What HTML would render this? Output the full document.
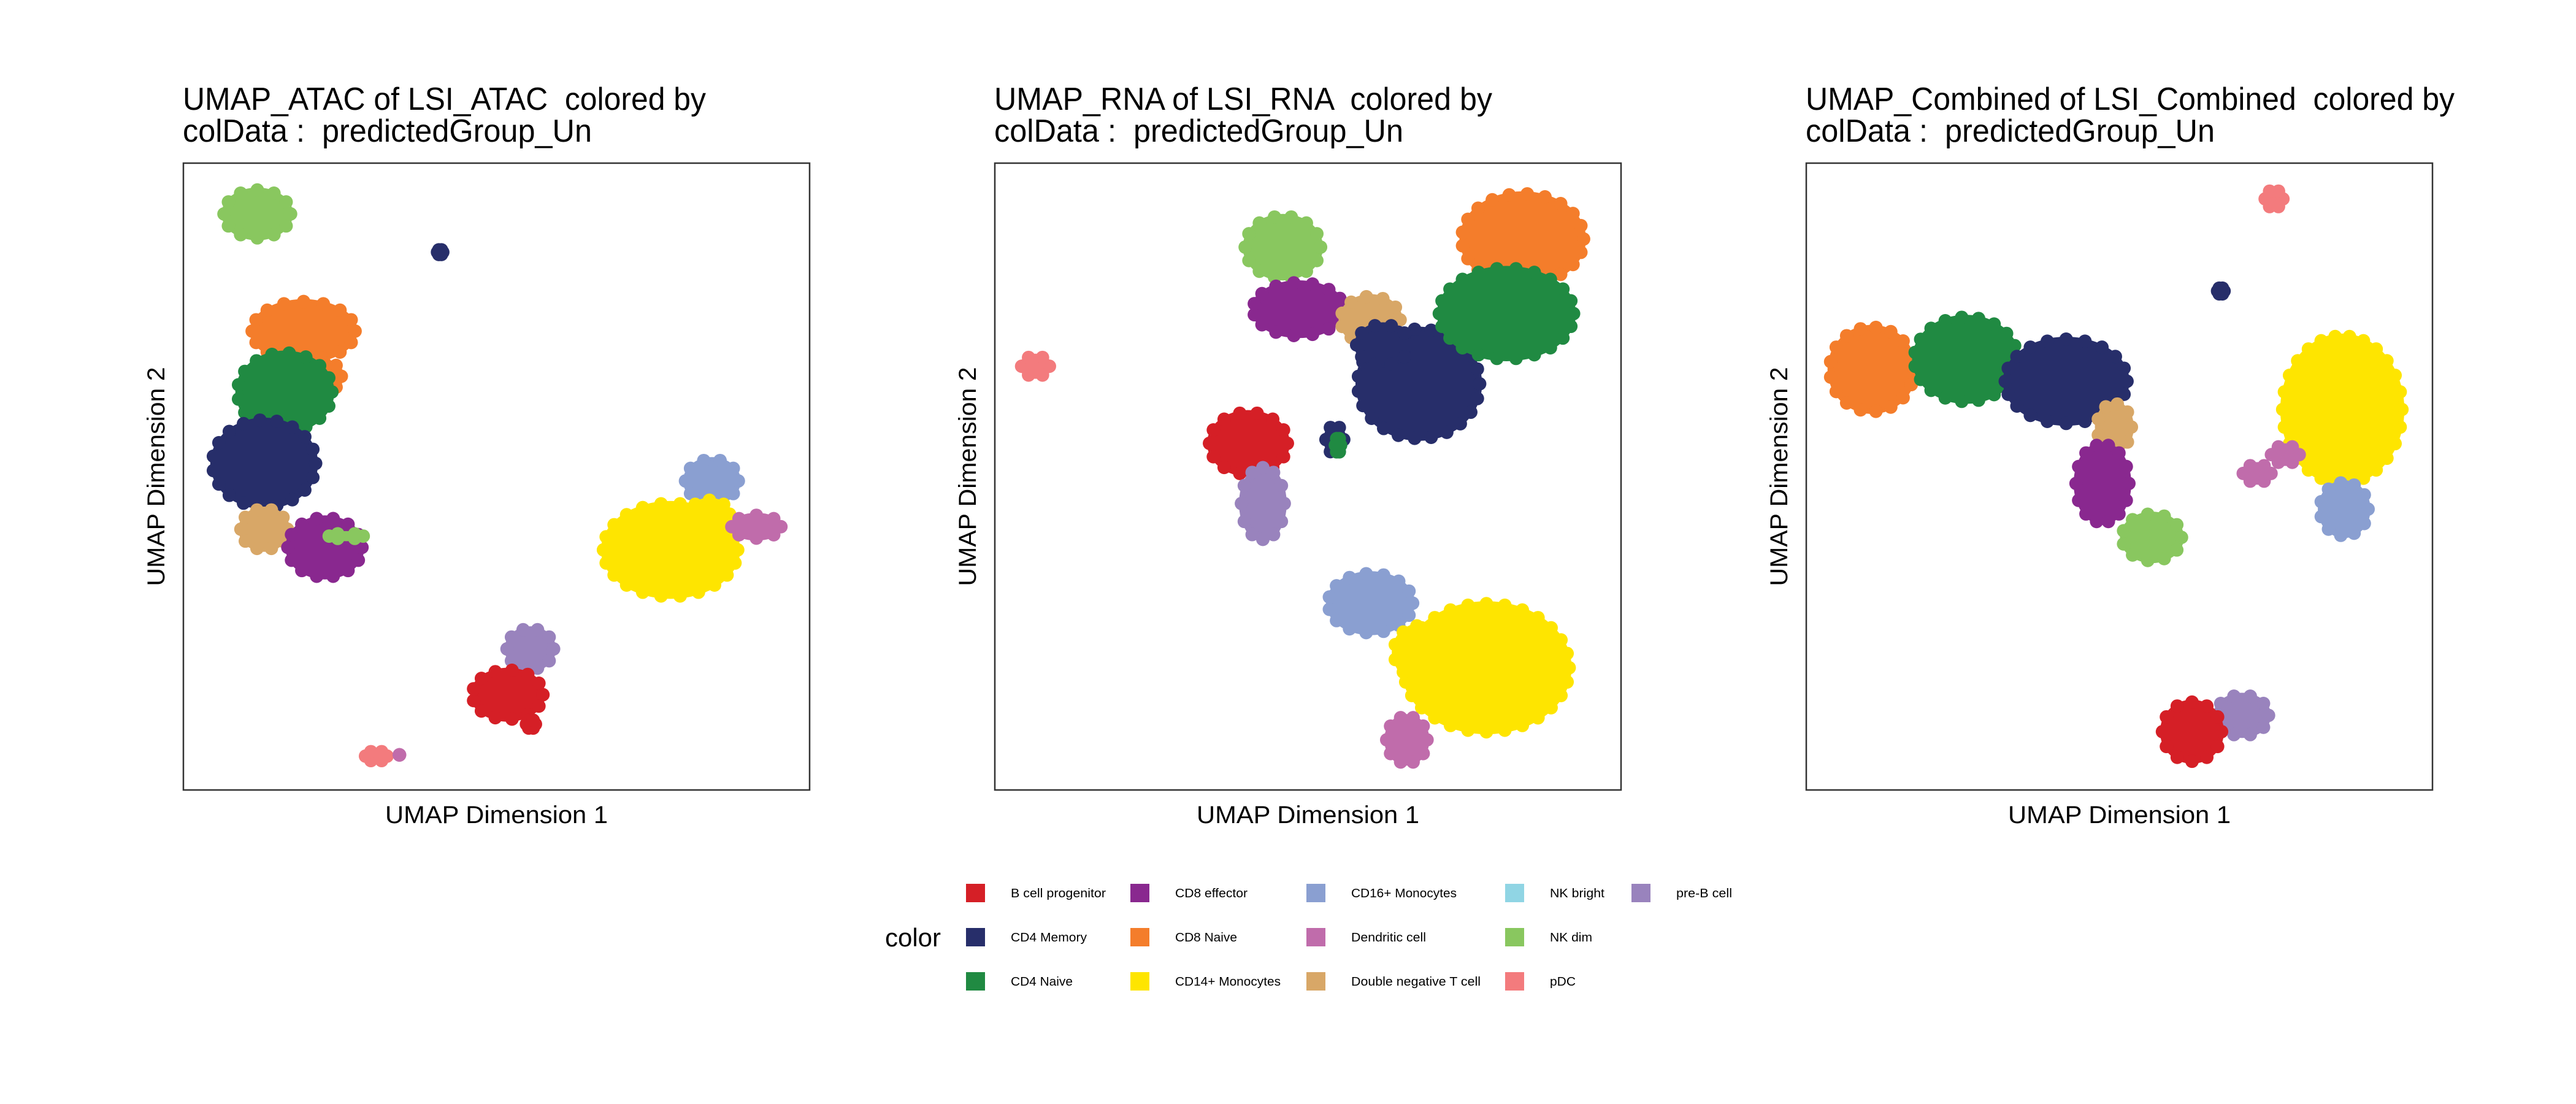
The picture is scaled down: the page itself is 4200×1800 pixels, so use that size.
<!DOCTYPE html>
<html><head><meta charset="utf-8"><style>
html,body{margin:0;padding:0;background:#fff;}
svg{display:block;font-family:"Liberation Sans",Arial,sans-serif;}
text{white-space:pre;}
</style></head><body>
<svg id="chart" width="4200" height="1800" viewBox="0 0 4200 1800" xmlns="http://www.w3.org/2000/svg" xml:space="preserve">
<rect x="0" y="0" width="4200" height="1800" fill="#fff"/>
</svg>
<script>
// Category names and colours
const groupNames = ["B cell progenitor","CD4 Memory","CD4 Naive","CD8 effector","CD8 Naive","CD14+ Monocytes","CD16+ Monocytes","Dendritic cell","Double negative T cell","NK bright","NK dim","pDC","pre-B cell"];
const groupColors = ["#D51F26","#272E6A","#208A42","#89288F","#F47D2B","#FEE500","#8A9FD1","#C06CAB","#D8A767","#90D5E4","#89C75F","#F37B7D","#9983BD"];

// Panel 1: UMAP_ATAC (cluster blobs in UMAP units 0-100)
const atacGroup = [10,1,4,4,2,1,8,3,10,6,5,5,7,12,0,0,11,7];
const atacX     = [11.8,41,19.2,23,16.2,12.9,12.9,22.6,26,84.4,77.8,84,91.5,55.4,51.8,55.5,30.8,34.5];
const atacY     = [91.9,85.8,73.2,66,63.5,52.1,41.6,38.7,40.5,49.3,38.3,44,42,22.5,15.2,10.5,5.4,5.6];
const atacRX    = [6.1,1.2,9,3,8.3,9,4.5,6.7,3.5,5,11.5,4,4.7,4.5,6.4,1.5,2.5,0.8];
const atacRY    = [4.6,1.2,5.5,3,7,7.7,4,5.5,1.2,4.2,8.2,3,2.6,4,4.7,1.5,1.6,0.8];

// Panel 2: UMAP_RNA
const rnaGroup = [11,10,3,8,4,1,1,2,0,12,1,2,6,5,5,7];
const rnaX     = [6.5,46,48.5,60,84.3,67.7,62,81.7,40.5,42.8,54.3,54.8,60,78.5,68,65.8];
const rnaY     = [67.6,86.6,76.7,75,87.9,64.8,71,76,55.3,45.7,55.9,55,29.8,19.5,22,8];
const rnaRX    = [3,6.8,8,5.5,10.5,10.5,5,11.5,7,4.2,2.2,1.2,7.5,14,5,4];
const rnaRY    = [2.4,5.7,5,4.5,8,9.5,4,8,5.7,6.5,3,2,5.5,11,5,4.5];

// Panel 3: UMAP_Combined
const combGroup = [11,1,4,2,1,8,3,10,5,6,7,7,12,0];
const combX     = [74.7,66.2,10.5,25.5,41.5,49.2,47.3,55.2,85.6,85.9,72,76.5,69.6,61.6];
const combY     = [94.3,79.6,67.1,68.7,65.2,57.9,48.9,40.3,60.7,44.8,50.5,53.5,11.9,9.3];
const combRX    = [2.2,1.3,7.5,9,10.5,3.5,5,5.5,10.3,4.6,3,3,5,5.5];
const combRY    = [2.2,1.3,7.5,7.5,7.5,4.5,7,4.5,12.5,5,2.2,2.2,4,5.5];

// Titles and axis labels
const titleLine1 = ["UMAP_ATAC of LSI_ATAC  colored by","UMAP_RNA of LSI_RNA  colored by","UMAP_Combined of LSI_Combined  colored by"];
const titleLine1W = [853,812,1058];
const titleLine2 = "colData :  predictedGroup_Un";

const NS = "http://www.w3.org/2000/svg";
const svg = document.getElementById("chart");
function mk(tag, attrs, parent){
  const e = document.createElementNS(NS, tag);
  for (const k in attrs) e.setAttribute(k, attrs[k]);
  (parent||svg).appendChild(e);
  return e;
}
const panelLeft = [299,1622,2945];
const PW = 1021, PH = 1022, PT = 266;
const panels = [
  {g:atacGroup,x:atacX,y:atacY,rx:atacRX,ry:atacRY,name:"atac"},
  {g:rnaGroup,x:rnaX,y:rnaY,rx:rnaRX,ry:rnaRY,name:"rna"},
  {g:combGroup,x:combX,y:combY,rx:combRX,ry:combRY,name:"combined"}
];

panels.forEach((p, pi) => {
  const L = panelLeft[pi];
  const sx = v => L + v/100*PW;
  const sy = v => PT + (100-v)/100*PH;
  const sw = v => v/100*PW;
  const sh = v => v/100*PH;

  const t1 = mk("text",{x:298+(L-299),y:179,"font-size":52,fill:"#000",textLength:titleLine1W[pi],lengthAdjust:"spacingAndGlyphs"});
  
  
  t1.textContent = titleLine1[pi];
  const t2 = mk("text",{x:298+(L-299),y:231,"font-size":52,fill:"#000",textLength:667,lengthAdjust:"spacingAndGlyphs"});
  
  
  t2.textContent = titleLine2;

  const grp = mk("g",{});
  
  
  for (let i=0;i<p.g.length;i++){
    const col = groupColors[p.g[i]];
    const cx = sx(p.x[i]), cy = sy(p.y[i]), rx = sw(p.rx[i]), ry = sh(p.ry[i]);
    const cl = mk("g",{fill:col},grp);
    
    
    mk("ellipse",{cx:cx,cy:cy,rx:Math.max(rx-4,6),ry:Math.max(ry-4,6)},cl);
    const n = Math.max(6, Math.round((rx+ry)/9));
    for (let k=0;k<n;k++){
      const a = k/n*Math.PI*2;
      mk("circle",{cx:cx+Math.cos(a)*(rx-8),cy:cy+Math.sin(a)*(ry-8),r:11},cl);
    }
  }

  const frame = mk("rect",{x:L,y:PT,width:PW,height:PH,fill:"none",stroke:"#333","stroke-width":2.5});
  
  

  const xl = mk("text",{x:L+PW/2,y:1342,"font-size":40,"text-anchor":"middle",fill:"#000",textLength:363,lengthAdjust:"spacingAndGlyphs"});
  
  
  xl.textContent = "UMAP Dimension 1";
  const yx = L-31, yy = PT+PH/2;
  const yl = mk("text",{x:yx,y:yy,"font-size":40,"text-anchor":"middle",fill:"#000",transform:`rotate(-90 ${yx} ${yy})`,textLength:357,lengthAdjust:"spacingAndGlyphs"});
  
  
  yl.textContent = "UMAP Dimension 2";
});

// Legend
const legendCols = [1575,1843,2130,2454,2660];
const legendRows = [1441,1513,1585];
const legendTextW = [155,124,101,118,101,172,172,122,211,89,69,42,91];
const lg = mk("g",{});


const lt = mk("text",{x:1443,y:1543,"font-size":42,fill:"#000",textLength:91,lengthAdjust:"spacingAndGlyphs"},lg);


lt.textContent = "color";
groupNames.forEach((nm, i) => {
  const c = Math.floor(i/3), r = i%3;
  const x = legendCols[c], y = legendRows[r];
  const e = mk("g",{},lg);
  
  
  mk("rect",{x:x,y:y,width:31,height:30,fill:groupColors[i]},e);
  const t = mk("text",{x:x+73,y:y+22,"font-size":20,fill:"#000",textLength:legendTextW[i],lengthAdjust:"spacingAndGlyphs"},e);
  t.textContent = nm;
});
</script>
</body></html>
